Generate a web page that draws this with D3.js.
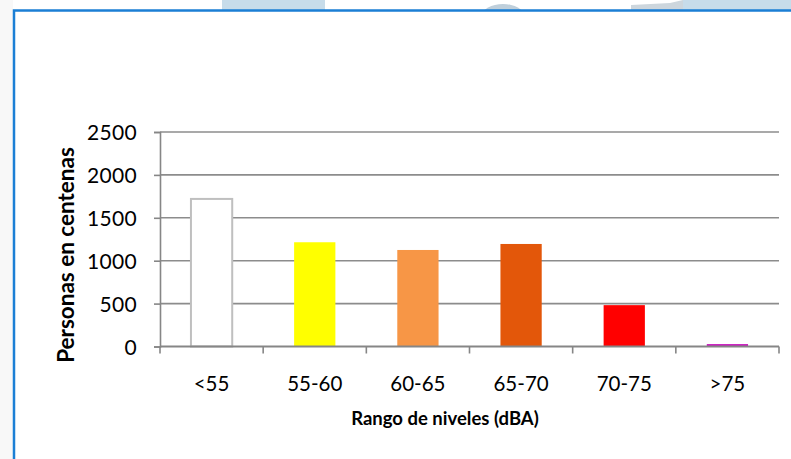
<!DOCTYPE html>
<html>
<head>
<meta charset="utf-8">
<script src="https://cdn.jsdelivr.net/npm/d3@7/dist/d3.min.js"></script>
<style>
  html, body { margin: 0; padding: 0; background: #ffffff; }
  svg { display: block; }
  text { font-family: Lato, "Open Sans", sans-serif; fill: #000; }
</style>
</head>
<body>
<svg id="chart" width="791" height="459"></svg>
<script>
// Noise exposure: people (hundreds) per sound level band
const categories = ["<55", "55-60", "60-65", "65-70", "70-75", ">75"];
const values = [1720, 1215, 1125, 1195, 482, 28];
const barColors = ["#ffffff", "#ffff00", "#f79646", "#e3570a", "#ff0000", "#c810bd"];
const yTicks = [0, 500, 1000, 1500, 2000, 2500];
const yTitle = "Personas en centenas";
const xTitle = "Rango de niveles (dBA)";

const svg = d3.select("#chart");

// faded page artwork peeking above the frame
const deco = svg.append("g");
deco.append("rect").attr("x", 222).attr("y", 0).attr("width", 103).attr("height", 10).attr("fill", "#c7dcea");
deco.append("ellipse").attr("cx", 503).attr("cy", 16).attr("rx", 21).attr("ry", 12).attr("fill", "#bfcfdb");
deco.append("path").attr("d", "M631,10 L631,5 L670,3 L683,0 L683,10 Z").attr("fill", "#cdd6dd");
deco.append("rect").attr("x", 683).attr("y", 0).attr("width", 108).attr("height", 10).attr("fill", "#c7dcea");
svg.append("rect").attr("x", 0).attr("y", 0).attr("width", 13).attr("height", 459).attr("fill", "#f8f8f8");

// chart frame
svg.append("rect")
  .attr("x", 14).attr("y", 10.5)
  .attr("width", 800).attr("height", 470)
  .attr("fill", "#ffffff")
  .attr("stroke", "#1b7fd5").attr("stroke-width", 2.5);

const plot = { left: 160, right: 779, top: 132, bottom: 346.5 };

const x = d3.scaleBand()
  .domain(categories)
  .range([plot.left, plot.right])
  .paddingInner(0.6)
  .paddingOuter(0.3);

const y = d3.scaleLinear()
  .domain([0, 2500])
  .range([plot.bottom, plot.top]);

// horizontal gridlines
svg.append("g")
  .selectAll("line")
  .data(yTicks.filter(d => d > 0))
  .join("line")
  .attr("x1", plot.left).attr("x2", plot.right)
  .attr("y1", d => y(d)).attr("y2", d => y(d))
  .attr("stroke", "#8c8c8c").attr("stroke-width", 1.6);

// bars
svg.append("g")
  .selectAll("rect")
  .data(values)
  .join("rect")
  .attr("x", (d, i) => x(categories[i]))
  .attr("y", d => y(d))
  .attr("width", x.bandwidth())
  .attr("height", d => plot.bottom - y(d))
  .attr("fill", (d, i) => barColors[i])
  .attr("stroke", (d, i) => i === 0 ? "#bfbfbf" : "none")
  .attr("stroke-width", 2);

// y axis
const yAxis = svg.append("g")
  .attr("transform", `translate(${plot.left},0)`)
  .call(d3.axisLeft(y).tickValues(yTicks).tickSize(6).tickPadding(17).tickFormat(d3.format("d")));
yAxis.select(".domain").attr("stroke", "#868686").attr("stroke-width", 1.6);
yAxis.selectAll(".tick line").attr("stroke", "#868686").attr("stroke-width", 1.6);
yAxis.selectAll(".tick text")
  .attr("font-family", "'Open Sans', sans-serif").attr("font-size", 21).attr("fill", "#000")
  .attr("letter-spacing", 0.3)
  .attr("dy", "0.38em");

// x axis with boundary ticks between categories
const step = x.step();
const boundaries = d3.range(categories.length + 1).map(i => plot.left + i * step);
const xAxisG = svg.append("g");
xAxisG.append("line")
  .attr("x1", plot.left).attr("x2", plot.right)
  .attr("y1", plot.bottom).attr("y2", plot.bottom)
  .attr("stroke", "#868686").attr("stroke-width", 2);
xAxisG.selectAll("line.b")
  .data(boundaries)
  .join("line").attr("class", "b")
  .attr("x1", d => d).attr("x2", d => d)
  .attr("y1", plot.bottom).attr("y2", plot.bottom + 7)
  .attr("stroke", "#868686").attr("stroke-width", 1.6);
xAxisG.selectAll("text")
  .data(categories)
  .join("text")
  .attr("x", d => x(d) + x.bandwidth() / 2)
  .attr("y", 391)
  .attr("text-anchor", "middle")
  .attr("font-family", "'Open Sans', sans-serif")
  .attr("font-size", 20.5)
  .text(d => d);

// axis titles
svg.append("text")
  .attr("x", 445).attr("y", 425)
  .attr("text-anchor", "middle")
  .attr("font-size", 18.5).attr("font-weight", "bold")
  .text(xTitle);

svg.append("text")
  .attr("transform", "translate(74,255) rotate(-90)")
  .attr("text-anchor", "middle")
  .attr("font-size", 22.5).attr("font-weight", "bold")
  .text(yTitle);
</script>
</body>
</html>
